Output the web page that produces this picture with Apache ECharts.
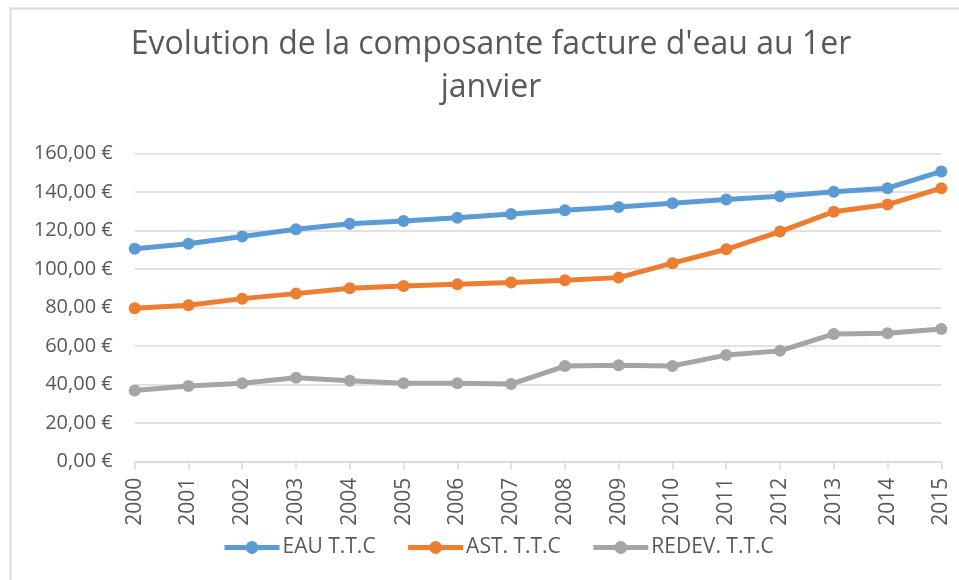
<!DOCTYPE html>
<html>
<head>
<meta charset="utf-8">
<title>Evolution de la composante facture d'eau</title>
<script src="https://cdn.jsdelivr.net/npm/echarts@6/dist/echarts.min.js"></script>
<style>
html, body { margin: 0; padding: 0; background: #fff; }
#chart { width: 959px; height: 580px; }
</style>
</head>
<body>
<div id="chart"></div>
<script>
// années (axe X)
var annees = ['2000','2001','2002','2003','2004','2005','2006','2007','2008','2009','2010','2011','2012','2013','2014','2015'];
// valeurs (€)
var eauTTC   = [110.5, 113.1, 116.8, 120.6, 123.4, 124.9, 126.6, 128.5, 130.4, 132.2, 134.1, 136.0, 137.7, 140.0, 141.9, 150.6];
var astTTC   = [79.6, 81.2, 84.6, 87.2, 90.0, 91.1, 92.0, 93.0, 94.1, 95.5, 103.0, 110.2, 119.4, 129.7, 133.4, 141.9];
var redevTTC = [36.9, 39.3, 40.7, 43.6, 42.0, 40.7, 40.7, 40.3, 49.6, 50.0, 49.7, 55.3, 57.5, 66.3, 66.6, 68.9];
// graduations de l'axe Y
var yMin = 0, yMax = 160, yPas = 20;

var couleurs = ['#5B9BD5', '#ED7D31', '#A5A5A5'];
var police = '"Open Sans", "Noto Sans", sans-serif';
var gris = '#595959';

var myChart = echarts.init(document.getElementById('chart'));

function serie(nom, data, couleur){
	return {
		name: nom,
		type: 'line',
		data: data,
		symbol: 'circle',
		symbolSize: 12,
		lineStyle: { width: 5, color: couleur },
		itemStyle: { color: couleur },
		emphasis: { disabled: true },
		animation: false
	};
}

var option = {
	color: couleurs,
	animation: false,
	graphic: [
		{ // cadre du graphique
			type: 'rect',
			shape: { x: 10.5, y: 8.5, width: 970, height: 600 },
			style: { fill: null, stroke: '#D9D9D9', lineWidth: 2 },
			silent: true
		},
		{ // titre
			type: 'text',
			x: 491,
			y: 23,
			style: {
				text: "Evolution de la composante facture d'eau au 1er\njanvier",
				textAlign: 'center',
				fill: gris,
				font: '32px ' + police,
				lineHeight: 43
			}
		}
	],
	grid: {
		left: 134.7,
		right: 17.7,
		top: 153.3,
		bottom: 118.3
	},
	legend: {
		data: ['EAU T.T.C', 'AST. T.T.C', 'REDEV. T.T.C'],
		bottom: 17,
		left: 217,
		itemWidth: 55,
		itemHeight: 16,
		itemGap: 30,
		lineStyle: { width: 5 },
		textStyle: { color: gris, fontSize: 21, fontFamily: police, padding: [0, 0, 0, -2] }
	},
	xAxis: {
		type: 'category',
		data: annees,
		boundaryGap: false,
		axisLine: { lineStyle: { color: '#D9D9D9', width: 1.5 } },
		axisTick: { show: true, length: 8, lineStyle: { color: '#D9D9D9', width: 1.5 } },
		axisLabel: {
			rotate: 90,
			margin: 16,
			color: gris,
			fontSize: 21,
			fontFamily: police
		},
		splitLine: { show: false }
	},
	yAxis: {
		type: 'value',
		min: yMin,
		max: yMax,
		interval: yPas,
		axisLine: { show: false },
		axisTick: { show: false },
		axisLabel: {
			margin: 22,
			color: gris,
			fontSize: 20,
			fontFamily: police,
			formatter: function(v){
				return v.toFixed(2).replace('.', ',') + ' €';
			}
		},
		splitLine: { lineStyle: { color: '#D9D9D9', width: 1.5 } }
	},
	series: [
		serie('EAU T.T.C', eauTTC, couleurs[0]),
		serie('AST. T.T.C', astTTC, couleurs[1]),
		serie('REDEV. T.T.C', redevTTC, couleurs[2])
	]
};

myChart.setOption(option);
</script>
</body>
</html>
